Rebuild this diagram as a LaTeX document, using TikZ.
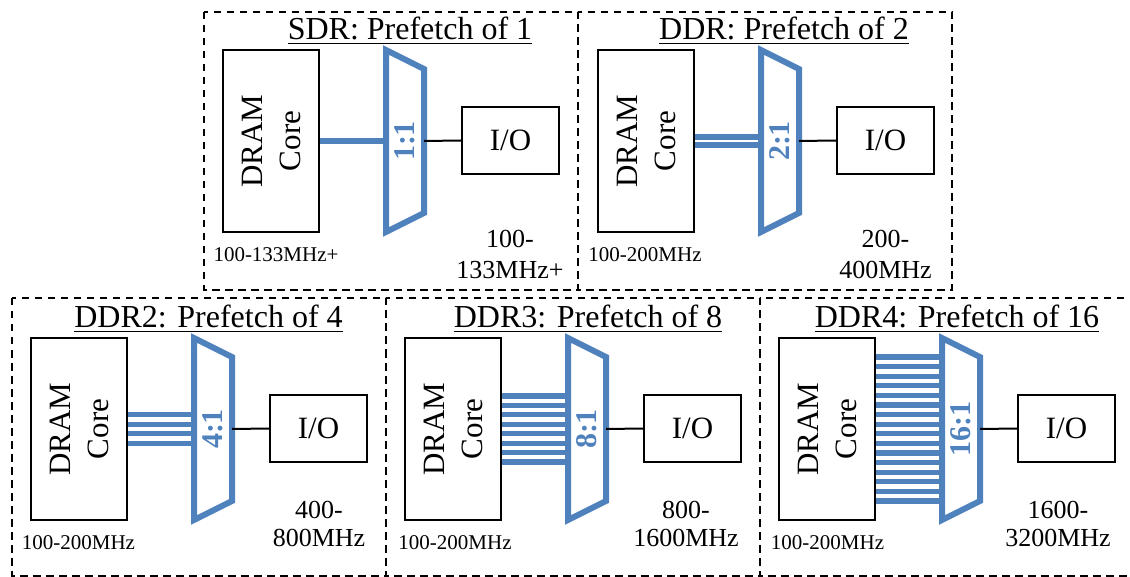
\documentclass[tikz,border=0pt]{standalone}
\usepackage{fontspec}
\setmainfont{Liberation Serif}
\definecolor{muxblue}{RGB}{79,129,189}
\tikzset{
  frame/.style={draw, line width=1.6pt, dash pattern=on 7.5pt off 5.5pt},
  corebox/.style={draw, line width=2pt, minimum width=96pt, minimum height=182pt, inner sep=0pt},
  coretext/.style={align=center, inner sep=0pt, font=\fontsize{31}{38}\selectfont},
  iobox/.style={draw, line width=2pt, minimum width=97pt, minimum height=67pt, inner sep=0pt, font=\fontsize{31}{36}\selectfont},
  muxshape/.style={draw=muxblue, line width=6pt, line join=miter},
  muxtext/.style={text=muxblue, inner sep=0pt, font=\fontsize{30}{36}\selectfont\bfseries},
  bus/.style={draw=muxblue, line width=5.2pt},
  wire/.style={draw, line width=2pt},
  titletext/.style={inner sep=0pt, anchor=base, font=\fontsize{32}{38}\selectfont},
  uline/.style={draw, line width=1.8pt},
  freqtop/.style={align=center, inner sep=0pt, font=\fontsize{26}{31}\selectfont},
  freqbot/.style={align=center, inner sep=0pt, font=\fontsize{26}{28}\selectfont},
  freqsmall/.style={inner sep=0pt, font=\fontsize{21}{25}\selectfont},
}
\newcommand\muxunit[6]{%
  \begin{scope}[shift={(#2,#3)}]
    \node[corebox] (core#1) at (271,141) {};
    \node[coretext, rotate=90] (coretxt#1) at (core#1.center) {DRAM\\Core};
    \draw[muxshape] (386,50) -- (424,69) -- (424,213) -- (386,232) -- cycle;
    \coordinate (muxin#1) at (386,141);
    \coordinate (muxout#1) at (424,141);
    \node[muxtext, rotate=90] (mux#1) at (405,141) {#6};
    \node[iobox] (io#1) at (510.5,140.5) {I/O};
    \draw[wire] (muxout#1) -- (io#1.west);
    \foreach \k in {1,...,#4} {
      \pgfmathsetmacro\dy{(\k-(#4+1)/2)*#5}
      \draw[bus] ([yshift=\dy pt]core#1.east) -- ([yshift=\dy pt]muxin#1);
    }
  \end{scope}}
\begin{document}
\begin{tikzpicture}[x=1pt,y=-1pt]
\useasboundingbox (0,0) rectangle (1130,577);
% frames
\draw[frame] (204,12) rectangle (578,290);
\draw[frame] (578,12) rectangle (952,290);
\draw[frame] (12,298) rectangle (386,576);
\draw[frame] (386,298) rectangle (760,576);
\draw[frame] (760,298) rectangle (1132,576);
% units
\muxunit{a}{0}{0}{1}{8}{1:1}
\muxunit{b}{375}{0}{2}{8}{2:1}
\muxunit{c}{-192}{288}{4}{9.5}{4:1}
\muxunit{d}{182}{288}{8}{9.45}{8:1}
\muxunit{e}{556}{288}{16}{9.6}{16:1}
% titles
\node[titletext] (ta) at (410,40) {SDR: Prefetch of 1};
\node[titletext] (tb) at (784,40) {DDR: Prefetch of 2};
\node[titletext] (tc) at (208.5,328) {DDR2: Prefetch of 4};
\node[titletext] (td) at (588,328) {DDR3: Prefetch of 8};
\node[titletext] (te) at (957,328) {DDR4: Prefetch of 16};
\foreach \t in {ta,tb,tc,td,te} {
  \draw[uline] ([yshift=-3.5pt]\t.base west) -- ([yshift=-3.5pt]\t.base east);
}
% frequencies
\node[freqsmall] (fsa) at (276,254.5) {100-133MHz+};
\node[freqsmall] (fsb) at (645,254.5) {100-200MHz};
\node[freqsmall] (fsc) at (78.5,543) {100-200MHz};
\node[freqsmall] (fsd) at (455,543) {100-200MHz};
\node[freqsmall] (fse) at (827.5,543) {100-200MHz};
\node[freqtop] (fra) at (510,254.5) {100-\\133MHz+};
\node[freqtop] (frb) at (885.5,254.5) {200-\\400MHz};
\node[freqbot] (frc) at (319,524) {400-\\800MHz};
\node[freqbot] (frd) at (686,524) {800-\\1600MHz};
\node[freqbot] (fre) at (1058,524) {1600-\\3200MHz};
\end{tikzpicture}
\end{document}
